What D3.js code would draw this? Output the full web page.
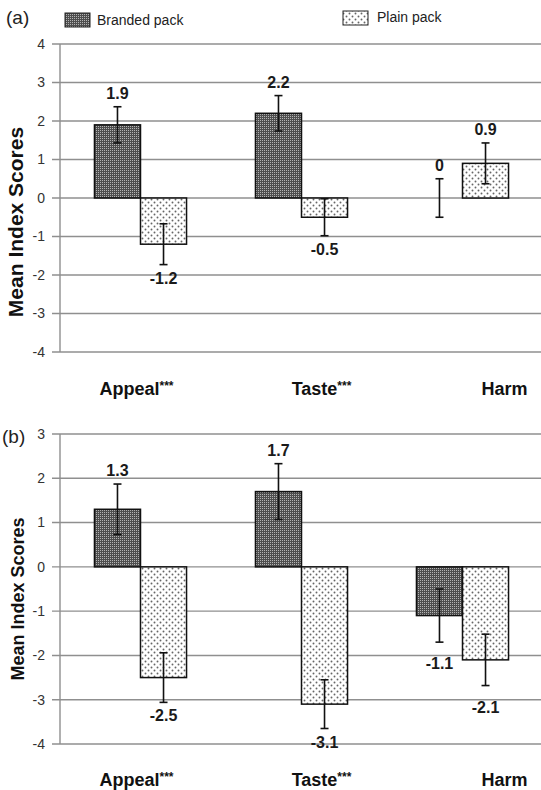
<!DOCTYPE html>
<html>
<head>
<meta charset="utf-8">
<script src="https://cdn.jsdelivr.net/npm/d3@7"></script>
<style>
  body { margin: 0; background: #fff; }
  svg { font-family: "Liberation Sans", Arial, sans-serif; display: block; }
</style>
</head>
<body>
<div id="vis"></div>
<script>
// data
var categories = ["Appeal", "Taste", "Harm"];
var stars = ["***", "***", ""];
var series = ["Branded pack", "Plain pack"];

var brandedA = [1.9, 2.2, 0];
var plainA = [-1.2, -0.5, 0.9];
var brandedErrA = [0.47, 0.46, 0.5];
var plainErrA = [0.53, 0.48, 0.53];

var brandedB = [1.3, 1.7, -1.1];
var plainB = [-2.5, -3.1, -2.1];
var brandedErrB = [0.57, 0.63, 0.6];
var plainErrB = [0.56, 0.55, 0.58];

var yTicksA = [-4, -3, -2, -1, 0, 1, 2, 3, 4];
var yTicksB = [-4, -3, -2, -1, 0, 1, 2, 3];

var width = 541, height = 790;

var svg = d3.select("#vis")
    .append("svg")
    .attr("width", width)
    .attr("height", height);

// fill patterns
var defs = svg.append("defs");
{
    var p1 = defs.append("pattern")
        .attr("id", "branded")
        .attr("patternUnits", "userSpaceOnUse")
        .attr("width", 2).attr("height", 2);
    p1.append("rect").attr("width", 2).attr("height", 2).attr("fill", "#4e4e4e");
    p1.append("rect").attr("width", 1).attr("height", 1).attr("fill", "#b4b4b4");

    var p2 = defs.append("pattern")
        .attr("id", "plain")
        .attr("patternUnits", "userSpaceOnUse")
        .attr("width", 6).attr("height", 6);
    p2.append("rect").attr("width", 6).attr("height", 6).attr("fill", "#fff");
    p2.append("circle").attr("cx", 1.5).attr("cy", 1.5).attr("r", 0.95).attr("fill", "#666");
    p2.append("circle").attr("cx", 4.5).attr("cy", 4.5).attr("r", 0.95).attr("fill", "#666");
}

var fills = d3.scaleOrdinal().domain(series).range(["url(#branded)", "url(#plain)"]);

var x = d3.scaleBand().domain(categories).range([60, 543]).padding(0);
var x1 = d3.scaleBand().domain(series)
    .range([x.bandwidth() * 0.214, x.bandwidth() * 0.786]).padding(0);

// category label nudges as placed in the original figure
var catShift = [-4, 20, 42];

function makeRows(branded, plain, bErr, pErr) {
    var rows = [];
    categories.forEach(function (c, i) {
        rows.push({ cat: c, key: series[0], value: branded[i], err: bErr[i] });
        rows.push({ cat: c, key: series[1], value: plain[i], err: pErr[i] });
    });
    return rows;
}

function drawPanel(opt) {
    var g = svg.append("g");
    var y = d3.scaleLinear().domain(d3.extent(opt.ticks)).range([opt.bottom, opt.top]);

    // gridlines
    g.selectAll("line.grid")
        .data(opt.ticks)
        .enter().append("line")
        .attr("class", "grid")
        .attr("x1", 52).attr("x2", width)
        .attr("y1", d => y(d)).attr("y2", d => y(d))
        .attr("stroke", "#8f8f8f")
        .attr("stroke-width", 1.4);

    g.append("line")
        .attr("x1", 60).attr("x2", 60)
        .attr("y1", y(opt.ticks[opt.ticks.length - 1])).attr("y2", y(opt.ticks[0]))
        .attr("stroke", "#8f8f8f")
        .attr("stroke-width", 1.4);

    g.selectAll("text.tick")
        .data(opt.ticks)
        .enter().append("text")
        .attr("class", "tick")
        .attr("x", 45)
        .attr("y", d => y(d))
        .attr("dy", "0.35em")
        .attr("text-anchor", "end")
        .attr("font-size", 14)
        .attr("fill", "#333")
        .text(d => d);

    // y title
    g.append("text")
        .attr("transform", "translate(" + opt.titleX + "," + opt.titleY + ") rotate(-90)")
        .attr("text-anchor", "middle")
        .attr("font-weight", "bold")
        .attr("font-size", opt.titleSize)
        .attr("fill", "#111")
        .text("Mean Index Scores");

    var rows = opt.rows;

    g.selectAll("rect.bar")
        .data(rows)
        .enter().append("rect")
        .attr("class", "bar")
        .attr("x", d => x(d.cat) + x1(d.key))
        .attr("width", x1.bandwidth())
        .attr("y", d => y(Math.max(0, d.value)))
        .attr("height", d => Math.abs(y(d.value) - y(0)))
        .attr("fill", d => fills(d.key))
        .attr("stroke", "#111")
        .attr("stroke-width", 1.5);

    var cx = d => x(d.cat) + x1(d.key) + x1.bandwidth() / 2;

    var eb = g.selectAll("g.err")
        .data(rows)
        .enter().append("g")
        .attr("class", "err")
        .attr("stroke", "#111")
        .attr("stroke-width", 1.6);
    eb.append("line")
        .attr("x1", cx).attr("x2", cx)
        .attr("y1", d => y(d.value + d.err)).attr("y2", d => y(d.value - d.err));
    eb.append("line")
        .attr("x1", d => cx(d) - 4).attr("x2", d => cx(d) + 4)
        .attr("y1", d => y(d.value + d.err)).attr("y2", d => y(d.value + d.err));
    eb.append("line")
        .attr("x1", d => cx(d) - 4).attr("x2", d => cx(d) + 4)
        .attr("y1", d => y(d.value - d.err)).attr("y2", d => y(d.value - d.err));

    g.selectAll("text.val")
        .data(rows)
        .enter().append("text")
        .attr("class", "val")
        .attr("x", cx)
        .attr("y", function (d) {
            if (d.value >= 0) return y(d.value + d.err) - 8;
            var extra = (opt.lowCat === d.cat) ? 8 : 0;
            return y(d.value - d.err) + 19 + extra;
        })
        .attr("text-anchor", "middle")
        .attr("font-weight", "bold")
        .attr("font-size", 16)
        .attr("fill", "#1a1a1a")
        .text(d => d.value);

    var cl = g.selectAll("text.cat")
        .data(categories)
        .enter().append("text")
        .attr("class", "cat")
        .attr("x", (d, i) => x(d) + x.bandwidth() / 2 + catShift[i])
        .attr("y", opt.catY)
        .attr("text-anchor", "middle")
        .attr("font-weight", "bold")
        .attr("font-size", 18)
        .attr("fill", "#111");
    cl.append("tspan").text(d => d);
    cl.append("tspan")
        .attr("font-size", 12)
        .attr("dy", -5)
        .text((d, i) => stars[i]);

    g.append("text")
        .attr("x", opt.tagX)
        .attr("y", opt.tagY)
        .attr("font-size", 19)
        .attr("fill", "#222")
        .text(opt.tag);
}

function drawLegend() {
    var items = [
        { key: series[0], x: 65, y: 13, tx: 97, ty: 25 },
        { key: series[1], x: 343, y: 11, tx: 377, ty: 22 }
    ];
    var legend = svg.selectAll(".legend")
        .data(items)
        .enter().append("g")
        .attr("class", "legend");

    legend.append("rect")
        .attr("x", d => d.x).attr("y", d => d.y)
        .attr("width", 25).attr("height", 14)
        .attr("fill", d => fills(d.key))
        .attr("stroke", "#222")
        .attr("stroke-width", 1);

    legend.append("text")
        .attr("x", d => d.tx).attr("y", d => d.ty)
        .attr("font-size", 14)
        .attr("fill", "#222")
        .text(d => d.key);
}

drawLegend();

drawPanel({
    ticks: yTicksA, top: 44, bottom: 352,
    rows: makeRows(brandedA, plainA, brandedErrA, plainErrA),
    titleX: 23, titleY: 222, titleSize: 21,
    catY: 395, tag: "(a)", tagX: 6, tagY: 24
});

drawPanel({
    ticks: yTicksB, top: 434, bottom: 744,
    rows: makeRows(brandedB, plainB, brandedErrB, plainErrB),
    titleX: 24, titleY: 599, titleSize: 18, lowCat: "Harm",
    catY: 786, tag: "(b)", tagX: 2, tagY: 443
});
</script>
</body>
</html>
